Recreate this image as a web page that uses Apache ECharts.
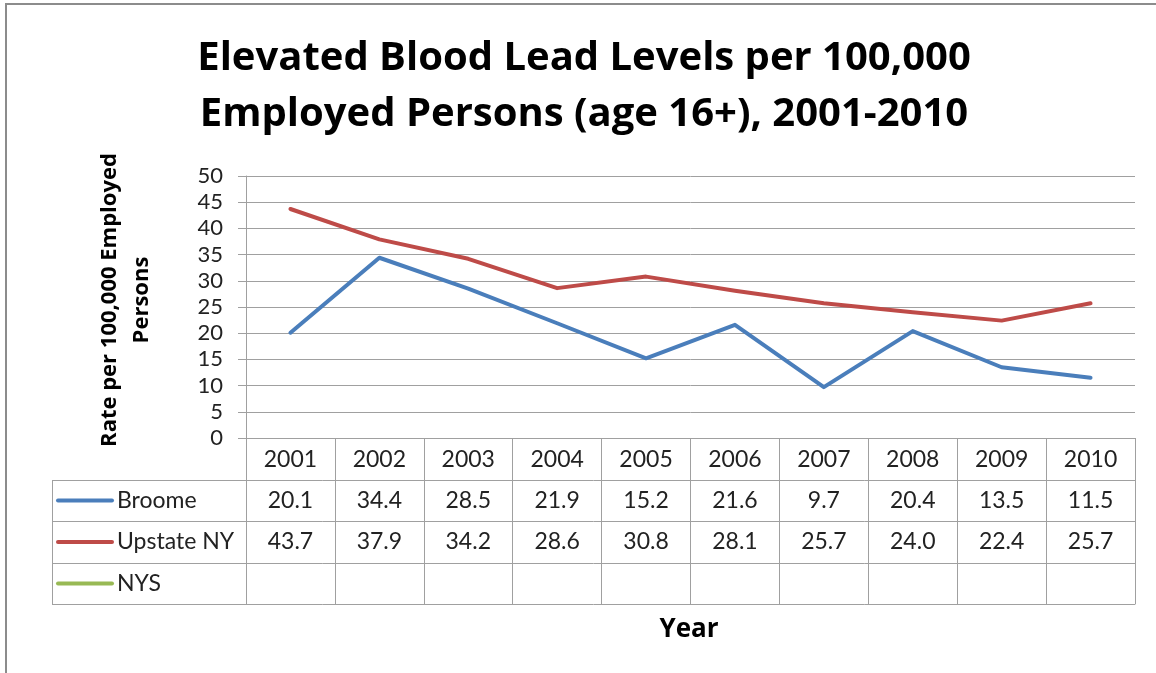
<!DOCTYPE html>
<html><head><meta charset="utf-8">
<script src="https://cdn.jsdelivr.net/npm/echarts@6/dist/echarts.min.js"></script>
<style>html,body{margin:0;padding:0;background:#fff}#c{width:1156px;height:673px}</style>
</head><body><div id="c"></div>
<script>
// ---- data ----
const years = ['2001','2002','2003','2004','2005','2006','2007','2008','2009','2010'];
const broome = [20.1, 34.4, 28.5, 21.9, 15.2, 21.6, 9.7, 20.4, 13.5, 11.5];
const upstate = [43.7, 37.9, 34.2, 28.6, 30.8, 28.1, 25.7, 24.0, 22.4, 25.7];
const nys = [null, null, null, null, null, null, null, null, null, null];
const seriesNames = ['Broome', 'Upstate NY', 'NYS'];
const titleText = 'Elevated Blood Lead Levels per 100,000\nEmployed Persons (age 16+), 2001-2010';
const yTitle = 'Rate per 100,000 Employed\nPersons';
const xTitle = 'Year';

// ---- styles ----
const FONT = "Lato, 'Open Sans', sans-serif";
const BFONT = "'Open Sans', Lato, sans-serif";
const colors = ['#4a7ebb', '#be4b48', '#98b954'];
const gridColor = '#a0a0a0';
const textColor = '#222';
const rowH = 41.6;
const tableLeft = 52;

const chart = echarts.init(document.getElementById('c'), null, {renderer: 'canvas'});
const seriesData = [broome, upstate, nys];

chart.setOption({
  animation: false,
  backgroundColor: '#fff',
  grid: {left: 246, right: 21, top: 176, bottom: 235, containLabel: false},
  xAxis: {
    type: 'category', data: years, boundaryGap: true,
    axisLine: {show: true, lineStyle: {color: gridColor, width: 1}},
    axisTick: {show: true, alignWithLabel: false, interval: 0, length: rowH * 4, lineStyle: {color: gridColor, width: 1}},
    axisLabel: {interval: 0, margin: 10, fontSize: 23, fontFamily: FONT, color: textColor}
  },
  yAxis: {
    type: 'value', min: 0, max: 50, interval: 5,
    axisLine: {show: true, lineStyle: {color: gridColor, width: 1}},
    axisTick: {show: true, length: 8, lineStyle: {color: gridColor, width: 1}},
    splitLine: {show: true, lineStyle: {color: gridColor, width: 1}},
    axisLabel: {margin: 23, fontSize: 22, fontFamily: FONT, color: textColor}
  },
  series: seriesNames.map((n, i) => ({
    name: n, type: 'line', data: seriesData[i], symbol: 'none',
    lineStyle: {color: colors[i], width: 4, cap: 'round', join: 'round'},
    itemStyle: {color: colors[i]}
  }))
});

function buildGraphic() {
  const c0 = chart.convertToPixel({xAxisIndex: 0}, 0);
  const c1 = chart.convertToPixel({xAxisIndex: 0}, 1);
  const bw = c1 - c0;
  const rightEdge = chart.convertToPixel({xAxisIndex: 0}, years.length - 1) + bw / 2;
  const top = chart.convertToPixel({yAxisIndex: 0}, 0);
  const els = [];
  // outer border
  els.push({type: 'rect', shape: {x: 6, y: 4, width: 1200, height: 720}, style: {fill: null, stroke: '#8c8c8c', lineWidth: 2}, silent: true});
  // title
  els.push({type: 'text', x: 584, y: 31, style: {text: titleText, fontSize: 40, fontWeight: 'bold', fontFamily: BFONT, fill: '#000', align: 'center', verticalAlign: 'top', lineHeight: 56}});
  // y title
  els.push({type: 'text', x: 126, y: 300, rotation: Math.PI / 2, style: {text: yTitle, fontSize: 22, fontWeight: 'bold', fontFamily: BFONT, fill: '#000', align: 'center', verticalAlign: 'middle', lineHeight: 32}});
  // x title
  els.push({type: 'text', x: 689, y: 630, style: {text: xTitle, fontSize: 26, fontWeight: 'bold', fontFamily: BFONT, fill: '#000', align: 'center', verticalAlign: 'middle'}});
  // horizontal table lines
  for (let r = 1; r <= 4; r++) {
    const y = Math.round(top + r * rowH) + 0.5;
    els.push({type: 'line', shape: {x1: tableLeft, y1: y, x2: rightEdge, y2: y}, style: {stroke: gridColor, lineWidth: 1}, silent: true});
  }
  // left border of series label column
  els.push({type: 'line', shape: {x1: tableLeft + 0.5, y1: Math.round(top + rowH) + 0.5, x2: tableLeft + 0.5, y2: Math.round(top + 4 * rowH) + 0.5}, style: {stroke: gridColor, lineWidth: 1}, silent: true});
  // series rows
  seriesNames.forEach((n, i) => {
    const cy = top + (i + 1.5) * rowH;
    els.push({type: 'line', shape: {x1: tableLeft + 6, y1: cy, x2: tableLeft + 60, y2: cy}, style: {stroke: colors[i], lineWidth: 4, lineCap: 'round'}, silent: true});
    els.push({type: 'text', x: tableLeft + 65, y: cy, style: {text: n, fontSize: 23, fontFamily: FONT, fill: textColor, align: 'left', verticalAlign: 'middle'}});
    seriesData[i].forEach((v, j) => {
      if (v === null) return;
      const cx = chart.convertToPixel({xAxisIndex: 0}, j);
      els.push({type: 'text', x: cx, y: cy, style: {text: v.toFixed(1), fontSize: 23, fontFamily: FONT, fill: textColor, align: 'center', verticalAlign: 'middle'}});
    });
  });
  return els;
}
chart.setOption({graphic: {elements: buildGraphic()}});
</script>
</body></html>
